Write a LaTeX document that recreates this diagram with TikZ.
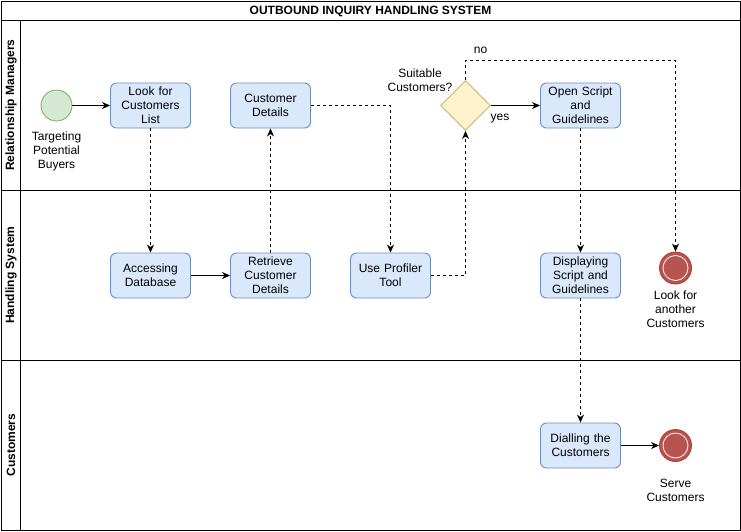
\documentclass[tikz,border=0pt]{standalone}
\usepackage{fontspec}
\setmainfont{Liberation Sans}
\usetikzlibrary{shapes.geometric,arrows.meta}
\definecolor{boxfill}{HTML}{DAE8FC}
\definecolor{boxline}{HTML}{6C8EBF}
\definecolor{startfill}{HTML}{D5E8D4}
\definecolor{startline}{HTML}{82B366}
\definecolor{endfill}{HTML}{B85450}
\definecolor{endline}{HTML}{AE4132}
\definecolor{diafill}{HTML}{FFF2CC}
\definecolor{dialine}{HTML}{D6B656}
\tikzset{
  every node/.style={font=\fontsize{12}{14}\selectfont},
  task/.style={draw=boxline, fill=boxfill, rounded corners=6pt, minimum width=80pt, minimum height=45pt, text width=76pt, align=center, inner sep=1pt, line width=0.9pt},
  startev/.style={circle, draw=startline, fill=startfill, minimum size=31pt, inner sep=0pt, line width=0.9pt},
  endev/.style={circle, draw=endline, fill=endfill, minimum size=32pt, inner sep=0pt, line width=0.9pt},
  decision/.style={diamond, draw=dialine, fill=diafill, minimum width=50pt, minimum height=50pt, inner sep=0pt, line width=0.9pt},
  lbl/.style={align=center, inner sep=0pt},
  flow/.style={line width=0.9pt, -{Stealth[length=8pt,width=7pt,inset=2.5pt]}},
  msg/.style={flow, dash pattern=on 3pt off 3pt},
  lanetitle/.style={font=\bfseries\fontsize{12}{14}\selectfont, rotate=90}
}
\begin{document}
\begin{tikzpicture}[x=1pt,y=-1pt]
\useasboundingbox (0,0) rectangle (741,531);
% frame
\draw[line width=1pt] (1,1) rectangle (740,530);
\draw[line width=1pt] (1,20) -- (740,20);
\draw[line width=1pt] (20,20) -- (20,530);
\draw[line width=1pt] (1,190) -- (740,190);
\draw[line width=1pt] (1,360) -- (740,360);
\node[font=\bfseries\fontsize{12}{14}\selectfont] (title) at (370.5,11) {OUTBOUND INQUIRY HANDLING SYSTEM};
\node[lanetitle] (lane1) at (11,105) {Relationship Managers};
\node[lanetitle] (lane2) at (11,275) {Handling System};
\node[lanetitle] (lane3) at (11,445) {Customers};
% nodes
\node[startev] (start) at (56.5,105.5) {};
\node[lbl] (startlbl) at (56.5,151) {Targeting\\Potential\\Buyers};
\node[task] (look) at (150.5,105.5) {Look for\\Customers\\List};
\node[task] (cdet) at (270.5,105.5) {Customer\\Details};
\node[decision] (dia) at (465.5,105.5) {};
\node[lbl] (dialbl) at (420,80.5) {Suitable\\Customers?};
\node[task] (open) at (580.5,105.5) {Open Script\\and\\Guidelines};
\node[task] (acc) at (150.5,275.5) {Accessing\\Database};
\node[task] (ret) at (270.5,275.5) {Retrieve\\Customer\\Details};
\node[task] (upt) at (390.5,275.5) {Use Profiler\\Tool};
\node[task] (disp) at (580.5,275.5) {Displaying\\Script and\\Guidelines};
\node[endev] (end1) at (675.5,268) {};
\draw[white, line width=0.8pt] (end1.center) circle (12.5pt);
\node[lbl] (end1lbl) at (675.5,309) {Look for\\another\\Customers};
\node[task] (dial) at (580.5,445.5) {Dialling the\\Customers};
\node[endev] (end2) at (675.5,445.5) {};
\draw[white, line width=0.8pt] (end2.center) circle (12.5pt);
\node[lbl] (end2lbl) at (675.5,490.5) {Serve\\Customers};
\coordinate (nocorner) at (675.5,60.5);
% edges
\draw[flow] (start) -- (look);
\draw[msg] (look) -- (acc);
\draw[flow] (acc) -- (ret);
\draw[msg] (ret) -- (cdet);
\draw[msg] (cdet.east) -| (upt.north);
\draw[msg] (upt.east) -| (dia.south);
\draw[flow] (dia.east) -- (open.west);
\node[lbl] (yes) at (500,119) {yes};
\draw[msg] (dia.north) |- (nocorner) -- (end1.north);
\node[lbl] (no) at (480.5,50.5) {no};
\draw[msg] (open) -- (disp);
\draw[msg] (disp) -- (dial);
\draw[flow] (dial) -- (end2);
\end{tikzpicture}
\end{document}
